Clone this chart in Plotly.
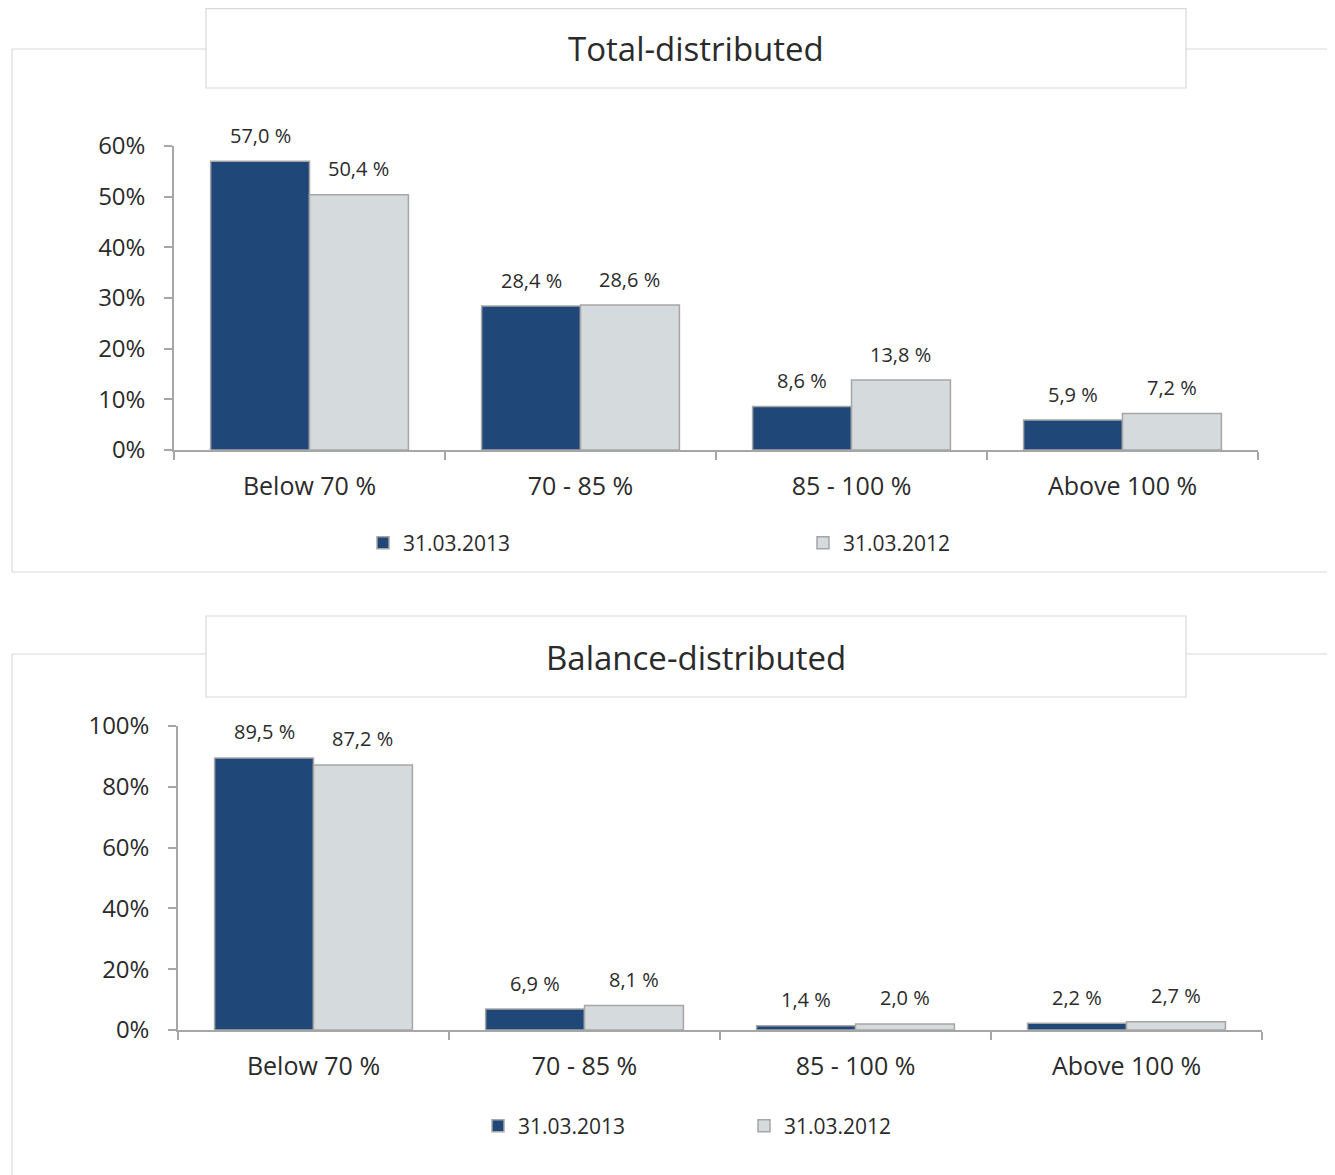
import plotly.graph_objects as go

# ---------------- data ----------------
categories = ["Below 70 %", "70 - 85 %", "85 - 100 %", "Above 100 %"]
series_names = ["31.03.2013", "31.03.2012"]

total_2013 = [57.0, 28.4, 8.6, 5.9]
total_2012 = [50.4, 28.6, 13.8, 7.2]

balance_2013 = [89.5, 6.9, 1.4, 2.2]
balance_2012 = [87.2, 8.1, 2.0, 2.7]

titles = ["Total-distributed", "Balance-distributed"]
top_ticks = [0, 10, 20, 30, 40, 50, 60]
bottom_ticks = [0, 20, 40, 60, 80, 100]

# ---------------- style ----------------
PAGE_W, PAGE_H = 1335, 1175
OFF = 8  # page body margin
W, H = PAGE_W - OFF, PAGE_H - OFF
DARK = "#1f4878"
LIGHT = "#d5dadd"
EDGE = "#a6a6a6"
FRAME = "#d9d9d9"
TXT = "#2b2b2b"
FONT = "Open Sans"
BARGAP = 0.27


def px(x):
    return (x - OFF) / W


def py(y):
    return 1 - (y - OFF) / H


def lab(v):
    return f"{v:.1f}".replace(".", ",") + " %"


fig = go.Figure()

panels = [
    dict(xa="x", ya="y", leg="legend", d13=total_2013, d12=total_2012),
    dict(xa="x2", ya="y2", leg="legend2", d13=balance_2013, d12=balance_2012),
]

annotations = []
for p in panels:
    for name, vals, col in [(series_names[0], p["d13"], DARK), (series_names[1], p["d12"], LIGHT)]:
        fig.add_trace(go.Bar(
            x=categories, y=vals, name=name, xaxis=p["xa"], yaxis=p["ya"],
            marker=dict(color=col, line=dict(color=EDGE, width=1.5)),
            legend=p["leg"], hoverinfo="skip",
        ))
    half = (1 - BARGAP) / 4
    for i in range(len(categories)):
        for off, vals in [(-half, p["d13"]), (half, p["d12"])]:
            annotations.append(dict(
                x=i + off, y=vals[i], xref=p["xa"], yref=p["ya"],
                text=lab(vals[i]), showarrow=False, yshift=26,
                font=dict(family=FONT, size=20, color=TXT),
            ))

# titles
annotations.append(dict(x=px(696), y=py(48), xref="paper", yref="paper", text=titles[0],
                        showarrow=False, font=dict(family=FONT, size=33, color=TXT),
                        xanchor="center", yanchor="middle"))
annotations.append(dict(x=px(696), y=py(657), xref="paper", yref="paper", text=titles[1],
                        showarrow=False, font=dict(family=FONT, size=33, color=TXT),
                        xanchor="center", yanchor="middle"))

# frames
shapes = []


def line(x0, y0, x1, y1):
    shapes.append(dict(type="line", xref="paper", yref="paper",
                       x0=px(x0), y0=py(y0), x1=px(x1), y1=py(y1),
                       line=dict(color=FRAME, width=1.2), layer="below"))


# top frame
line(12, 49, 12, 572)
line(12, 49, 206, 49)
line(1186, 49, 1340, 49)
line(12, 572, 1340, 572)
shapes.append(dict(type="rect", xref="paper", yref="paper", x0=px(206), y0=py(88), x1=px(1186), y1=py(8.6),
                   line=dict(color=FRAME, width=1.2), fillcolor="white", layer="below"))
# bottom frame
line(12, 654, 12, 1180)
line(12, 654, 206, 654)
line(1186, 654, 1340, 654)
shapes.append(dict(type="rect", xref="paper", yref="paper", x0=px(206), y0=py(697), x1=px(1186), y1=py(616),
                   line=dict(color=FRAME, width=1.2), fillcolor="white", layer="below"))

xaxis_common = dict(
    type="category", showline=True, linecolor=EDGE, linewidth=1.5,
    ticks="outside", tickson="boundaries", ticklen=8, tickcolor=EDGE, tickwidth=1.5,
    tickfont=dict(family=FONT, size=25, color=TXT), showgrid=False, fixedrange=True,
    ticklabelstandoff=13,
)
yaxis_common = dict(
    showline=True, linecolor=EDGE, linewidth=1.5, ticks="outside", ticklen=8,
    tickcolor=EDGE, tickwidth=1.5, showgrid=False, zeroline=False,
    tickfont=dict(family=FONT, size=24, color=TXT), fixedrange=True,
    ticklabelstandoff=14, tickmode="array",
)

fig.update_layout(
    width=W, height=H,
    margin=dict(l=0, r=0, t=0, b=0, autoexpand=False),
    paper_bgcolor="white", plot_bgcolor="white",
    barmode="group", bargap=BARGAP, bargroupgap=0,
    font=dict(family=FONT, color=TXT),
    xaxis=dict(domain=[px(174), px(1258)], anchor="y", **xaxis_common),
    yaxis=dict(domain=[py(450), py(146)], anchor="x", range=[0, 60], tickvals=top_ticks,
               ticktext=[f"{v}%" for v in top_ticks], **yaxis_common),
    xaxis2=dict(domain=[px(178), px(1262)], anchor="y2", **xaxis_common),
    yaxis2=dict(domain=[py(1030), py(726)], anchor="x2", range=[0, 100], tickvals=bottom_ticks,
                ticktext=[f"{v}%" for v in bottom_ticks], **yaxis_common),
    legend=dict(orientation="h", x=px(363), y=py(543), xanchor="left", yanchor="middle",
                entrywidth=395, entrywidthmode="pixels", bgcolor="rgba(0,0,0,0)",
                font=dict(family=FONT, size=21, color=TXT), itemclick=False, itemdoubleclick=False),
    legend2=dict(orientation="h", x=px(478), y=py(1126), xanchor="left", yanchor="middle",
                 entrywidth=221, entrywidthmode="pixels", bgcolor="rgba(0,0,0,0)",
                 font=dict(family=FONT, size=21, color=TXT), itemclick=False, itemdoubleclick=False),
    annotations=annotations,
    shapes=shapes,
    showlegend=True,
)

fig.write_html("out.html")
